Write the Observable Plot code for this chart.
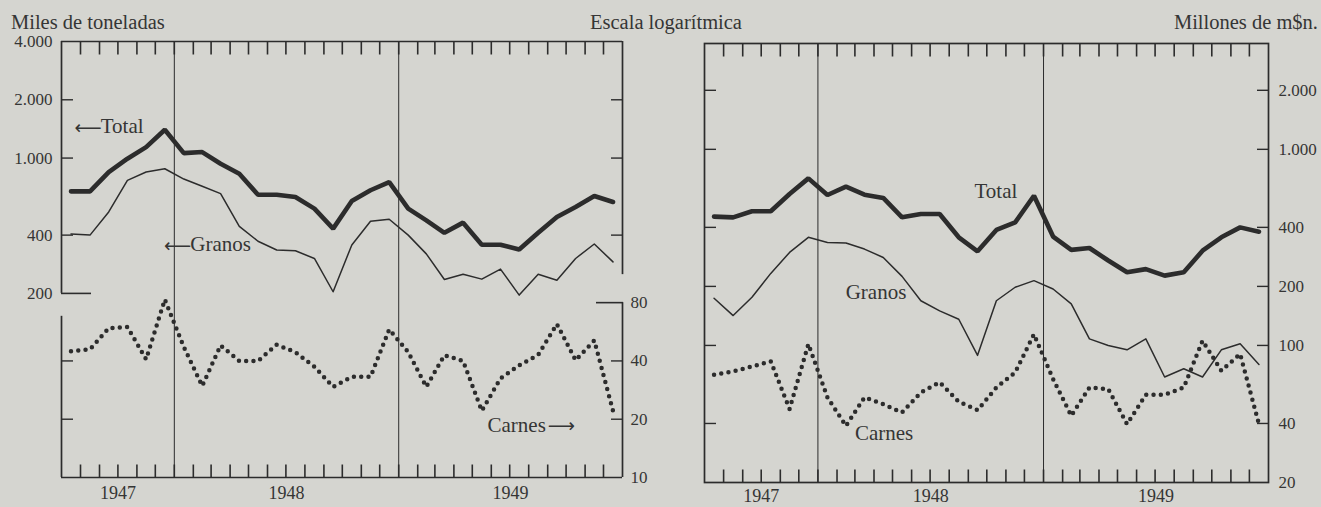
<!DOCTYPE html>
<html><head><meta charset="utf-8">
<script src="https://cdn.jsdelivr.net/npm/d3@7"></script>
<script src="https://cdn.jsdelivr.net/npm/@observablehq/plot@0.6"></script>
<style>
body{margin:0;background:#d5d5d0;}
#chart{position:relative;width:1321px;height:507px;overflow:hidden;font-family:"Liberation Serif",serif;color:#353535;}
.hdr{position:absolute;font-size:20.5px;line-height:20px;white-space:nowrap;}
#chart svg{position:absolute;top:0;}
</style></head><body>
<div id="chart">
<div class="hdr" style="left:11px;top:12px">Miles de toneladas</div>
<div class="hdr" style="left:590px;top:12px">Escala logarítmica</div>
<div class="hdr" style="right:3px;top:12px">Millones de m$n.</div>
</div>
<script>
// ---- categories: months Jul 1947 – Dec 1949 ----
const xStart = new Date(Date.UTC(1947, 6, 1));
const xEnd = new Date(Date.UTC(1950, 0, 1));
const months = d3.utcMonth.range(xStart, xEnd);
const yearStarts = [new Date(Date.UTC(1948, 0, 1)), new Date(Date.UTC(1949, 0, 1))];
const years = [1947, 1948, 1949];

// ---- left panel: volume (miles de toneladas) ----
const volTotal  = [673, 673, 847, 992, 1139, 1400, 1061, 1074, 935, 830, 647, 647, 629, 548, 432, 600, 682, 752, 548, 477, 411, 464, 357, 357, 337, 411, 496, 559, 637, 593];
const volGranos = [405, 400, 527, 767, 847, 881, 779, 715, 655, 444, 372, 335, 332, 303, 204, 356, 472, 483, 400, 320, 236, 251, 237, 267, 196, 251, 234, 303, 360, 291];
const volCarnes = [44.9, 45.9, 59, 59.9, 40.8, 83, 47.2, 29.7, 48.1, 40, 40, 48.5, 44.4, 37.3, 29.4, 33.1, 33.1, 58.2, 44.4, 29.4, 42.8, 40, 22.1, 32.5, 38, 43, 62, 40.3, 51, 22.1];

// ---- right panel: value (millones de m$n.) ----
const valTotal  = [454, 450, 483, 483, 592, 711, 585, 645, 587, 565, 450, 468, 468, 356, 302, 388, 424, 580, 359, 307, 314, 271, 236, 245, 227, 236, 304, 356, 400, 380];
const valGranos = [174, 142, 176, 233, 298, 356, 335, 333, 310, 281, 225, 169, 150, 136, 89, 169, 198, 214, 194, 163, 108, 100, 95, 108, 69, 76, 69, 95, 102, 80];
const valCarnes = [70.9, 73.7, 78.1, 82.9, 47.4, 101.7, 54.3, 38.9, 54.3, 50.2, 45.5, 57.6, 64.8, 51.6, 46.8, 61.0, 72.8, 114, 67.4, 43.8, 61.0, 59.9, 39.7, 56.0, 56.0, 61.0, 105.7, 74.3, 90.4, 39.7];

// ---- tick values ----
const tonsLabels = [4000, 2000, 1000, 400, 200];
const tonsTicks = [2000, 1000, 400];
const carnesLabels = [80, 40, 20, 10];
const carnesTicks = [40, 20];
const valLabels = [2000, 1000, 400, 200, 100, 40, 20];
const valTicks = [2000, 1000, 400, 200, 100, 40];

const fmt = d3.formatLocale({decimal: ",", thousands: ".", grouping: [3], currency: ["$", ""]}).format(",d");
const mid = months.map(m => new Date((+m + +d3.utcMonth.offset(m, 1)) / 2));
const yearCenters = years.map(y => {
  const a = Math.max(+xStart, Date.UTC(y, 0, 1)), b = Math.min(+xEnd, Date.UTC(y + 1, 0, 1));
  return new Date((a + b) / 2);
});
const rows = vals => vals.map((v, i) => ({date: mid[i], value: v}));

const INK = "#2c2c2c";
const TXT = "#353535";
const style = {background: "transparent", fontFamily: "Liberation Serif, serif", fontSize: "17px", color: TXT, overflow: "visible"};
const leftDims = {width: 660, height: 507, marginLeft: 61, marginRight: 38, marginTop: 41, marginBottom: 30};
const tonsDomain = [22.4, 4000];
const carnesDomain = [10, 10 * tonsDomain[1] / tonsDomain[0]];

const monthTicks = months.slice(1);
const TICK = 12.5;
const frameX = (pad) => [
  Plot.axisX(monthTicks, {anchor: "top", tickSize: TICK, dy: TICK, fill: "none", stroke: INK, strokeWidth: 1.6}),
  Plot.axisX(monthTicks, {anchor: "bottom", tickSize: TICK, dy: -TICK, fill: "none", stroke: INK, strokeWidth: 1.6}),
  Plot.axisX(yearCenters, {anchor: "bottom", tickSize: 0, tickPadding: pad, tickFormat: d3.utcFormat("%Y"), label: null, fontSize: 18, fill: TXT}),
  Plot.ruleX(yearStarts, {stroke: INK, strokeWidth: 1})
];
// y labels as plain text marks on the y scale (log axes would blank some labels)
const yLabels = (values, side, pad, format) =>
  Plot.text(values, {y: d => d, frameAnchor: side, dx: side === "left" ? -pad : pad,
    textAnchor: side === "left" ? "end" : "start", text: format, fontSize: 17, fill: TXT});
// annotation: word + long arrow glyph
const note = (items, side) => [
  Plot.text(items, {x: "d", y: "v", text: "t", textAnchor: side === "left" ? "start" : "end", fontSize: 21, fill: TXT}),
  Plot.text(items, {x: "d", y: "v", text: () => side === "left" ? "⟵" : "⟶", textAnchor: side === "left" ? "end" : "start",
    dx: side === "left" ? 1 : 2, dy: 1, fontSize: 19, fontFamily: "DejaVu Sans", fill: TXT})
];

// Left panel, volume scale
const leftTons = Plot.plot({
  ...leftDims, style,
  x: {type: "utc", domain: [xStart, xEnd]},
  y: {type: "log", domain: tonsDomain},
  marks: [
    Plot.ruleY([tonsLabels[0]], {stroke: INK, strokeWidth: 1.7}),
    Plot.ruleX([xStart], {y1: 200, y2: tonsLabels[0], stroke: INK, strokeWidth: 1.7}),
    Plot.ruleX([xEnd], {y1: 250, y2: tonsLabels[0], stroke: INK, strokeWidth: 1.7}),
    ...frameX(9),
    Plot.axisY(tonsTicks, {anchor: "left", tickSize: -12, fill: "none", stroke: INK, strokeWidth: 1.4}),
    Plot.axisY([200], {anchor: "left", tickSize: -30, fill: "none", stroke: INK, strokeWidth: 1.6}),
    Plot.axisY(tonsTicks, {anchor: "right", tickSize: -12, fill: "none", stroke: INK, strokeWidth: 1.4}),
    yLabels(tonsLabels, "left", 9, fmt),
    Plot.line(rows(volGranos), {x: "date", y: "value", stroke: INK, strokeWidth: 1.5, curve: "linear"}),
    Plot.line(rows(volTotal), {x: "date", y: "value", stroke: INK, strokeWidth: 4.6, curve: "linear", strokeLinejoin: "miter"}),
    ...note([{t: "Total", d: new Date(Date.UTC(1947, 8, 3)), v: 1456}, {t: "Granos", d: new Date(Date.UTC(1948, 0, 27)), v: 358}], "left")
  ]
});

// Left panel, meat scale
const leftCarnes = Plot.plot({
  ...leftDims, style,
  x: {type: "utc", domain: [xStart, xEnd], axis: null},
  y: {type: "log", domain: carnesDomain},
  marks: [
    Plot.ruleY([carnesLabels[3]], {stroke: INK, strokeWidth: 1.7}),
    Plot.ruleX([xStart], {y1: 10, y2: 68, stroke: INK, strokeWidth: 1.7}),
    Plot.ruleX([xEnd], {y1: 10, y2: 80, stroke: INK, strokeWidth: 1.7}),
    Plot.axisY(carnesTicks, {anchor: "left", tickSize: -12, fill: "none", stroke: INK, strokeWidth: 1.4}),
    Plot.axisY(carnesTicks, {anchor: "right", tickSize: -12, fill: "none", stroke: INK, strokeWidth: 1.4}),
    Plot.axisY([80], {anchor: "right", tickSize: -27, fill: "none", stroke: INK, strokeWidth: 1.6}),
    yLabels(carnesLabels, "right", 8, d => String(d)),
    Plot.line(rows(volCarnes), {x: "date", y: "value", stroke: INK, strokeWidth: 4.5, strokeDasharray: "0 7.3", strokeLinecap: "round"}),
    ...note([{t: "Carnes", d: new Date(Date.UTC(1949, 7, 29)), v: 18.6}], "right")
  ]
});

// Right panel, value scale
const right = Plot.plot({
  width: 661, height: 507, marginLeft: 44, marginRight: 53, marginTop: 43, marginBottom: 25, style,
  x: {type: "utc", domain: [xStart, xEnd]},
  y: {type: "log", domain: [20, 3465]},
  marks: [
    Plot.frame({stroke: INK, strokeWidth: 1.7}),
    ...frameX(7),
    Plot.axisY(valTicks, {anchor: "left", tickSize: -12, fill: "none", stroke: INK, strokeWidth: 1.4}),
    Plot.axisY(valTicks, {anchor: "right", tickSize: -12, fill: "none", stroke: INK, strokeWidth: 1.4}),
    yLabels(valLabels, "right", 10, fmt),
    Plot.line(rows(valGranos), {x: "date", y: "value", stroke: INK, strokeWidth: 1.5}),
    Plot.line(rows(valCarnes), {x: "date", y: "value", stroke: INK, strokeWidth: 4.5, strokeDasharray: "0 7.3", strokeLinecap: "round"}),
    Plot.line(rows(valTotal), {x: "date", y: "value", stroke: INK, strokeWidth: 4.6, strokeLinejoin: "miter"}),
    Plot.text([
      {t: "Total", d: new Date(Date.UTC(1948, 8, 11)), v: 609},
      {t: "Granos", d: new Date(Date.UTC(1948, 1, 15)), v: 186},
      {t: "Carnes", d: new Date(Date.UTC(1948, 2, 1)), v: 35.5}
    ], {x: "d", y: "v", text: "t", textAnchor: "start", fontSize: 21, fill: TXT})
  ]
});

const chart = document.getElementById("chart");
leftTons.style.left = "0px";
leftCarnes.style.left = "0px";
right.style.left = "660px";
chart.append(leftTons, leftCarnes, right);
</script>
</body></html>
